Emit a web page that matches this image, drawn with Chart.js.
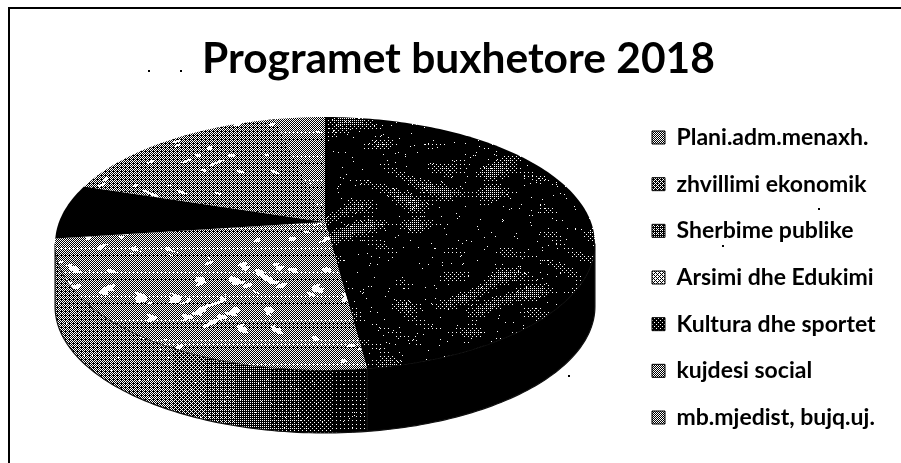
<!DOCTYPE html>
<html><head><meta charset="utf-8">
<style>html,body{margin:0;padding:0;background:#fff;width:901px;height:463px;overflow:hidden}
#box{position:absolute;left:0;top:0;width:901px;height:463px}
</style>
<script src="https://cdn.jsdelivr.net/npm/chart.js@4"></script>
</head><body>
<div id="box"><canvas id="c" width="901" height="463"></canvas></div>
<script>
const titleText = "Programet buxhetore 2018";
const categories = ["Plani.adm.menaxh.","zhvillimi ekonomik","Sherbime publike","Arsimi dhe Edukimi","Kultura dhe sportet","kujdesi social","mb.mjedist, bujq.uj."];
const values = [47.9, 0, 0, 25, 7, 16.6, 3.5];

const W=901,H=463;
const bayer=[0,8,2,10,12,4,14,6,3,11,1,9,15,7,13,5];
const noise=(x,y)=>Math.sin(x*.21+Math.sin(y*.17)*2)*Math.sin(y*.29+1.3+Math.sin(x*.13)*2)+.45*Math.sin(x*.07+y*.11);
const blob=(x,y)=>Math.sin(x*.09+2*Math.sin(y*.08))*Math.sin(y*.2+2*Math.sin(x*.06))+.35*Math.sin(x*.37+Math.sin(y*.31)*3)*Math.sin(y*.41+1);
const hash=(x,y)=>{let h=(x*374761393+y*668265263)|0;h=Math.imul(h^(h>>>13),1274126177);return ((h^(h>>>16))>>>0)/4294967296;};
function dither(fn){
  const s=document.createElement('canvas'); s.width=W; s.height=H;
  const c=s.getContext('2d'), im=c.createImageData(W,H);
  for(let y=0;y<H;y++)for(let x=0;x<W;x++){
    const on=fn(x,y)>(bayer[(x%4)+4*(y%4)]+.5)/16, i=(x+y*W)*4, v=on?255:0;
    im.data[i]=im.data[i+1]=im.data[i+2]=v; im.data[i+3]=255;
  }
  c.putImageData(im,0,0);
  return s;
}
const ctxMain=document.getElementById('c').getContext('2d');
const pat=fn=>ctxMain.createPattern(dither(fn),'repeat');
const darkFn=(x,y)=>hash(x,y)>.993?1:.02+.22*Math.max(0,noise(x*.3,y*.5)-.2);
const dark=pat(darkFn);
const black=pat(()=>0);
const midA=pat((x,y)=>{const band=Math.max(0,1-Math.abs(y-295)/75);return blob(x,y)>1.15-.5*band?1:.5+.04*Math.sin(y*1.3);});
const midB=pat((x,y)=>blob(x,y)>1.05?1:.44);
const faces=[dark,dark,dark,midA,black,midB,midA];
const arsimiSide=pat((x,y)=>{const t=Math.min(1,Math.max(0,(x-150)/190));return (hash(x,y)>.995?1:0)+.45-.37*t;});
const sides=[black,black,black,arsimiSide,black,black,black];
const swatchGray=[.5,.38,.3,.6,.12,.5,.5];
const swatches=swatchGray.map(g=>pat(()=>g));

/* perspective projection of the library's arc geometry */
const K=-0.17, APEX_Y=222, AY=122.8, RX=266, DEPTH=63;
const WIDEST=Math.asin(-K);
function rim(cx,a,drop){
  const u=Math.cos(a), v=Math.sin(a), w=1+K*v;
  return [cx+RX*u/w, APEX_Y+AY*v/w+drop];
}
function arcPath(ctx,cx,a0,a1,drop,first){
  const n=Math.max(2,Math.ceil(Math.abs(a1-a0)/0.02));
  for(let i=0;i<=n;i++){
    const p=rim(cx,a0+(a1-a0)*i/n,drop);
    if(i===0&&first)ctx.moveTo(p[0],p[1]); else ctx.lineTo(p[0],p[1]);
  }
}
const pie3d={id:'pie3d',
  beforeDatasetDraw(chart){
    const ctx=chart.ctx, arcs=chart.getDatasetMeta(0).data;
    const cx=arcs[0].x;
    ctx.save();
    arcs.forEach((arc,i)=>{
      const a0=Math.max(arc.startAngle,WIDEST), a1=Math.min(arc.endAngle,Math.PI-WIDEST);
      if(a1>a0 && arc.endAngle>arc.startAngle){
        ctx.beginPath();
        arcPath(ctx,cx,a0,a1,0,true);
        arcPath(ctx,cx,a1,a0,DEPTH,false);
        ctx.closePath();
        ctx.fillStyle=sides[i]; ctx.fill();
        ctx.strokeStyle='#111'; ctx.lineWidth=1.2; ctx.stroke();
      }
    });
    arcs.forEach((arc,i)=>{
      if(arc.endAngle<=arc.startAngle)return;
      ctx.beginPath();
      ctx.moveTo(cx,APEX_Y);
      arcPath(ctx,cx,arc.startAngle,arc.endAngle,0,false);
      ctx.closePath();
      ctx.fillStyle=faces[i]; ctx.fill();
    });
    ctx.restore();
    return false;
  }
};
const frame={id:'frame',
  afterLayout(chart){
    const ca=chart.chartArea; ca.left=59; ca.right=591; ca.top=117; ca.bottom=370; ca.width=532; ca.height=253;
    const t=chart.titleBlock; t.left=202; t.top=34; t.bottom=t.top+t.height;
    const l=chart.legend; l.left=652-23.67; l.right=l.left+l.width; l.top=46; l.bottom=509;
  },
  beforeDraw(chart){
    const c=chart.ctx; c.save(); c.strokeStyle='#000'; c.lineWidth=2;
    c.beginPath(); c.moveTo(9,463); c.lineTo(9,8); c.lineTo(901,8); c.stroke();
    c.fillStyle='#000';
    [[148,70],[180,70],[818,208],[722,245],[568,375]].forEach(p=>c.fillRect(p[0],p[1],2,2));
    c.restore();
  }
};
new Chart(ctxMain,{
  type:'pie',
  data:{labels:categories,datasets:[{data:values,backgroundColor:faces,borderWidth:0}]},
  plugins:[frame,pie3d],
  options:{
    responsive:false,animation:false,
    plugins:{
      tooltip:{enabled:false},
      title:{display:true,text:titleText,color:'#000',font:{family:'Lato',size:42.5,weight:'bold'},padding:{top:0,bottom:0},align:'start'},
      legend:{
        position:'right',align:'center',
        labels:{color:'#000',font:{family:'Lato',size:23,weight:'bold'},boxWidth:13,boxHeight:13,padding:23.67,
          generateLabels(ch){return categories.map((t,i)=>({text:t,fillStyle:swatches[i],strokeStyle:'#000',lineWidth:1,index:i}));}
        }
      }
    }
  }
});
</script>
</body></html>
